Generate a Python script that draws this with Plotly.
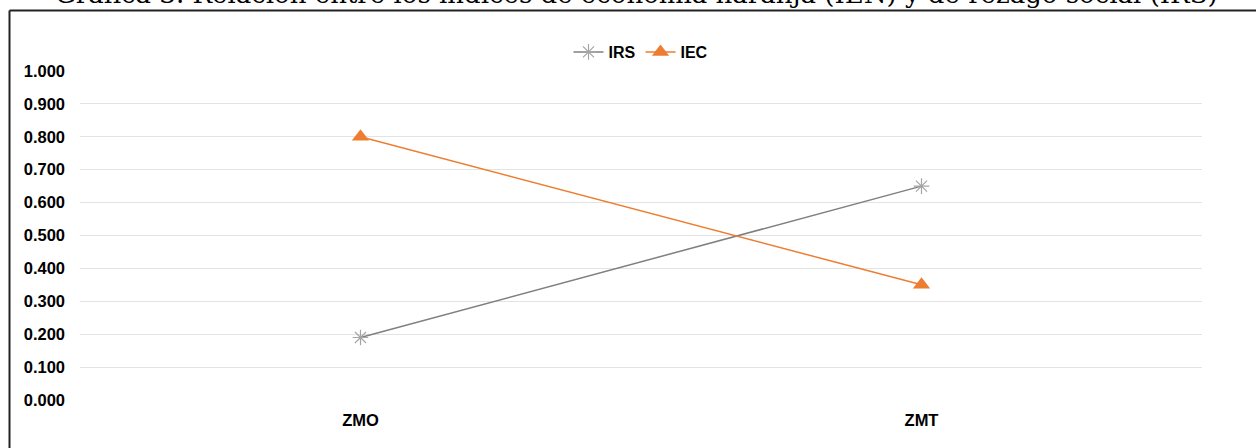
import plotly.graph_objects as go

categories = ["ZMO", "ZMT"]
irs_values = [0.19, 0.65]
iec_values = [0.80, 0.35]
y_tick_values = [0.0, 0.1, 0.2, 0.3, 0.4, 0.5, 0.6, 0.7, 0.8, 0.9, 1.0]
title_text = "Gráfica 3. Relación entre los índices de economía naranja (IEN) y de rezago social (IRS)"

W, H = 1256, 448
L, R, T, B = 80, 54, 71, 48
pw, ph = W - L - R, H - T - B

def px_x(p):
    return (p - L) / pw

def px_y(p):
    return (H - B - p) / ph

fig = go.Figure()
fig.add_trace(go.Scatter(
    x=categories, y=irs_values, name="IRS", mode="lines+markers",
    line=dict(color="#7f7f7f", width=1.5),
    marker=dict(symbol="asterisk-open", size=13, color="#a5a5a5",
                line=dict(color="#a5a5a5", width=1.2)),
))
fig.add_trace(go.Scatter(
    x=categories, y=iec_values, name="IEC", mode="lines+markers",
    line=dict(color="#ed7d31", width=1.5),
    marker=dict(symbol="triangle-up", size=15, color="#ed7d31"),
))

fig.update_layout(
    width=W, height=H,
    margin=dict(l=L, r=R, t=T, b=B),
    paper_bgcolor="white", plot_bgcolor="white",
    font=dict(family="Liberation Sans, Arial", color="black", size=16),
    showlegend=True,
    legend=dict(orientation="h", x=0.5, xanchor="center", y=px_y(52), yanchor="middle",
                font=dict(size=16, family="Liberation Sans, Arial", weight="bold"),
                itemwidth=30, entrywidth=0, tracegroupgap=0, bgcolor="rgba(0,0,0,0)"),
    xaxis=dict(type="category", range=[-0.5, 1.5], showgrid=False, zeroline=False,
               showline=False, ticks="",
               tickfont=dict(size=16.5, weight="bold"), ticklabelstandoff=8),
    yaxis=dict(range=[0, 1.0], tickvals=y_tick_values, tickformat=".3f",
               showgrid=True, gridcolor="#e3e3e3", gridwidth=1, zeroline=False,
               showline=False, ticks="",
               tickfont=dict(size=16.5, weight="bold"), ticklabelstandoff=14),
)

fig.add_shape(type="line", xref="paper", yref="paper",
              x0=px_x(9.5), x1=px_x(1262), y0=px_y(10.5), y1=px_y(10.5),
              line=dict(color="#222222", width=2))
fig.add_shape(type="line", xref="paper", yref="paper",
              x0=px_x(9.5), x1=px_x(9.5), y0=px_y(10.5), y1=px_y(452),
              line=dict(color="#222222", width=2))

fig.add_annotation(text=title_text, xref="paper", yref="paper",
                   x=px_x(636), y=px_y(11), xanchor="center", yanchor="bottom",
                   showarrow=False,
                   font=dict(family="DejaVu Serif", size=26, color="black"))

fig.write_html("out.html")
